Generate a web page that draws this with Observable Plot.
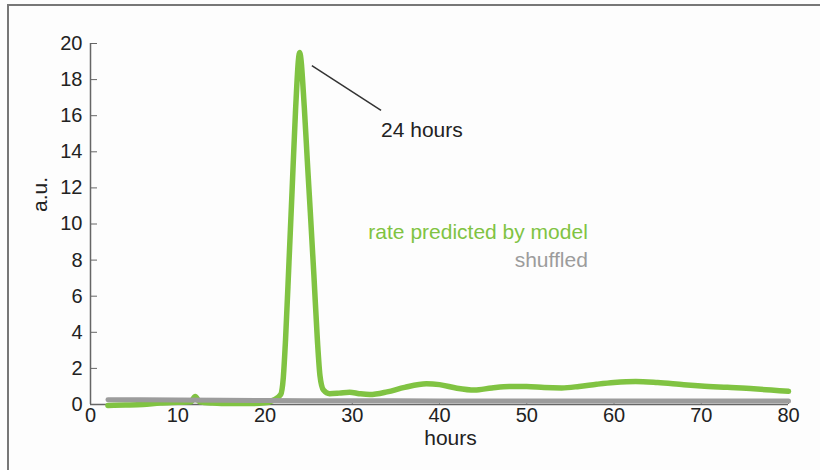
<!DOCTYPE html>
<html>
<head>
<meta charset="utf-8">
<script src="https://cdn.jsdelivr.net/npm/d3@7"></script>
<script src="https://cdn.jsdelivr.net/npm/@observablehq/plot@0.6"></script>
<style>
  html, body { margin: 0; padding: 0; background: #fdfdfd; }
  #wrap { position: relative; width: 820px; height: 470px; overflow: hidden; }
  #frame { position: absolute; left: 7px; top: 4px; width: 900px; height: 600px;
           border-top: 2px solid #777; border-left: 2px solid #777; box-sizing: border-box; }
  #chart { position: absolute; left: 0; top: 0; }
</style>
</head>
<body>
<div id="wrap"><div id="frame"></div><div id="chart"></div></div>
<script>
// Model-predicted rate (green)
const rateHours = [2, 4, 6, 8, 10, 11.5, 12, 12.5, 14, 16, 18, 20, 21, 21.8, 22.1, 22.35, 22.75, 23.1, 23.5, 23.97, 24.5, 24.85, 25.2, 25.6, 26.0, 26.3, 26.7, 27.4, 28.5, 29.7, 30.8, 32, 34, 36, 38.5, 40, 42, 44, 46, 48, 50, 52, 54, 56, 58, 60, 62.5, 65, 68, 70, 73, 76, 78, 80];
const rateValues = [-0.05, -0.03, 0.0, 0.08, 0.12, 0.15, 0.45, 0.15, 0.08, 0.05, 0.05, 0.1, 0.25, 0.55, 1.5, 3.55, 7.9, 11.8, 16.3, 19.5, 16.5, 13.5, 10.6, 7.2, 3.6, 1.6, 0.8, 0.6, 0.63, 0.68, 0.6, 0.55, 0.7, 0.95, 1.15, 1.1, 0.9, 0.8, 0.92, 1.0, 1.0, 0.94, 0.92, 1.0, 1.12, 1.22, 1.28, 1.22, 1.1, 1.03, 0.95, 0.87, 0.8, 0.73];
// Shuffled control (gray)
const shuffledHours = [2, 10, 20, 30, 40, 50, 60, 70, 80];
const shuffledValues = [0.26, 0.25, 0.22, 0.21, 0.2, 0.2, 0.19, 0.19, 0.19];
// Axis ticks
const xTicks = [0, 10, 20, 30, 40, 50, 60, 70, 80];
const yTicks = [0, 2, 4, 6, 8, 10, 12, 14, 16, 18, 20];
// Annotations
const seriesLabels = ["rate predicted by model", "shuffled"];
const seriesLabelX = [57.0, 57.0];
const seriesLabelY = [9.55, 7.98];
const peakLabel = "24 hours";
const peakLabelX = [33.3];
const peakLabelY = [15.22];
const leader = {x1: [25.37], y1: [18.78], x2: [33.3], y2: [16.29]};

const green = "#80c342";
const gray = "#9c9c9c";
const font = "'Liberation Sans', Arial, sans-serif";

const rateData = rateHours.map((h, i) => ({h, v: rateValues[i]}));
const shufData = shuffledHours.map((h, i) => ({h, v: shuffledValues[i]}));
const labelData = seriesLabels.map((t, i) => ({t, x: seriesLabelX[i], y: seriesLabelY[i], c: i === 0 ? green : gray}));
const leaderData = leader.x1.map((_, i) => ({x1: leader.x1[i], y1: leader.y1[i], x2: leader.x2[i], y2: leader.y2[i]}));
const peakData = peakLabelX.map((x, i) => ({x, y: peakLabelY[i], t: peakLabel}));

const chart = Plot.plot({
  width: 820,
  height: 470,
  marginLeft: 90,
  marginRight: 32,
  marginTop: 43,
  marginBottom: 66,
  style: {background: "transparent", fontFamily: font, color: "#222"},
  x: {domain: [0, 80], label: null},
  y: {domain: [0, 20], label: null},
  marks: [
    Plot.axisX({ticks: xTicks, tickSize: -5, tickPadding: 8, fontSize: 20, stroke: "#666", fill: "#222", label: null}),
    Plot.axisY({ticks: yTicks, tickSize: -7, tickPadding: 15, fontSize: 20, stroke: "#666", fill: "#222", label: null}),
    Plot.ruleX([0], {stroke: "#666", strokeWidth: 1.5}),
    Plot.ruleY([0], {stroke: "#666", strokeWidth: 1.5}),
    Plot.line(rateData, {x: "h", y: "v", stroke: green, strokeWidth: 5.5, curve: "monotone-x"}),
    Plot.line(shufData, {x: "h", y: "v", stroke: gray, strokeWidth: 5, curve: "monotone-x"}),
    Plot.link(leaderData, {x1: "x1", y1: "y1", x2: "x2", y2: "y2", stroke: "#333", strokeWidth: 1.5}),
    Plot.text(peakData, {x: "x", y: "y", text: "t", textAnchor: "start", fontSize: 21, fill: "#222"}),
    Plot.text(labelData, {x: "x", y: "y", text: "t", textAnchor: "end", fontSize: 21, fill: "c"}),
    Plot.text(["hours"], {frameAnchor: "bottom", dx: 11, dy: 40, fontSize: 21, fill: "#222"}),
    Plot.text(["a.u."], {frameAnchor: "left", rotate: -90, dx: -50, dy: -12, fontSize: 21, fill: "#222"})
  ]
});
document.getElementById("chart").appendChild(chart);
</script>
</body>
</html>
